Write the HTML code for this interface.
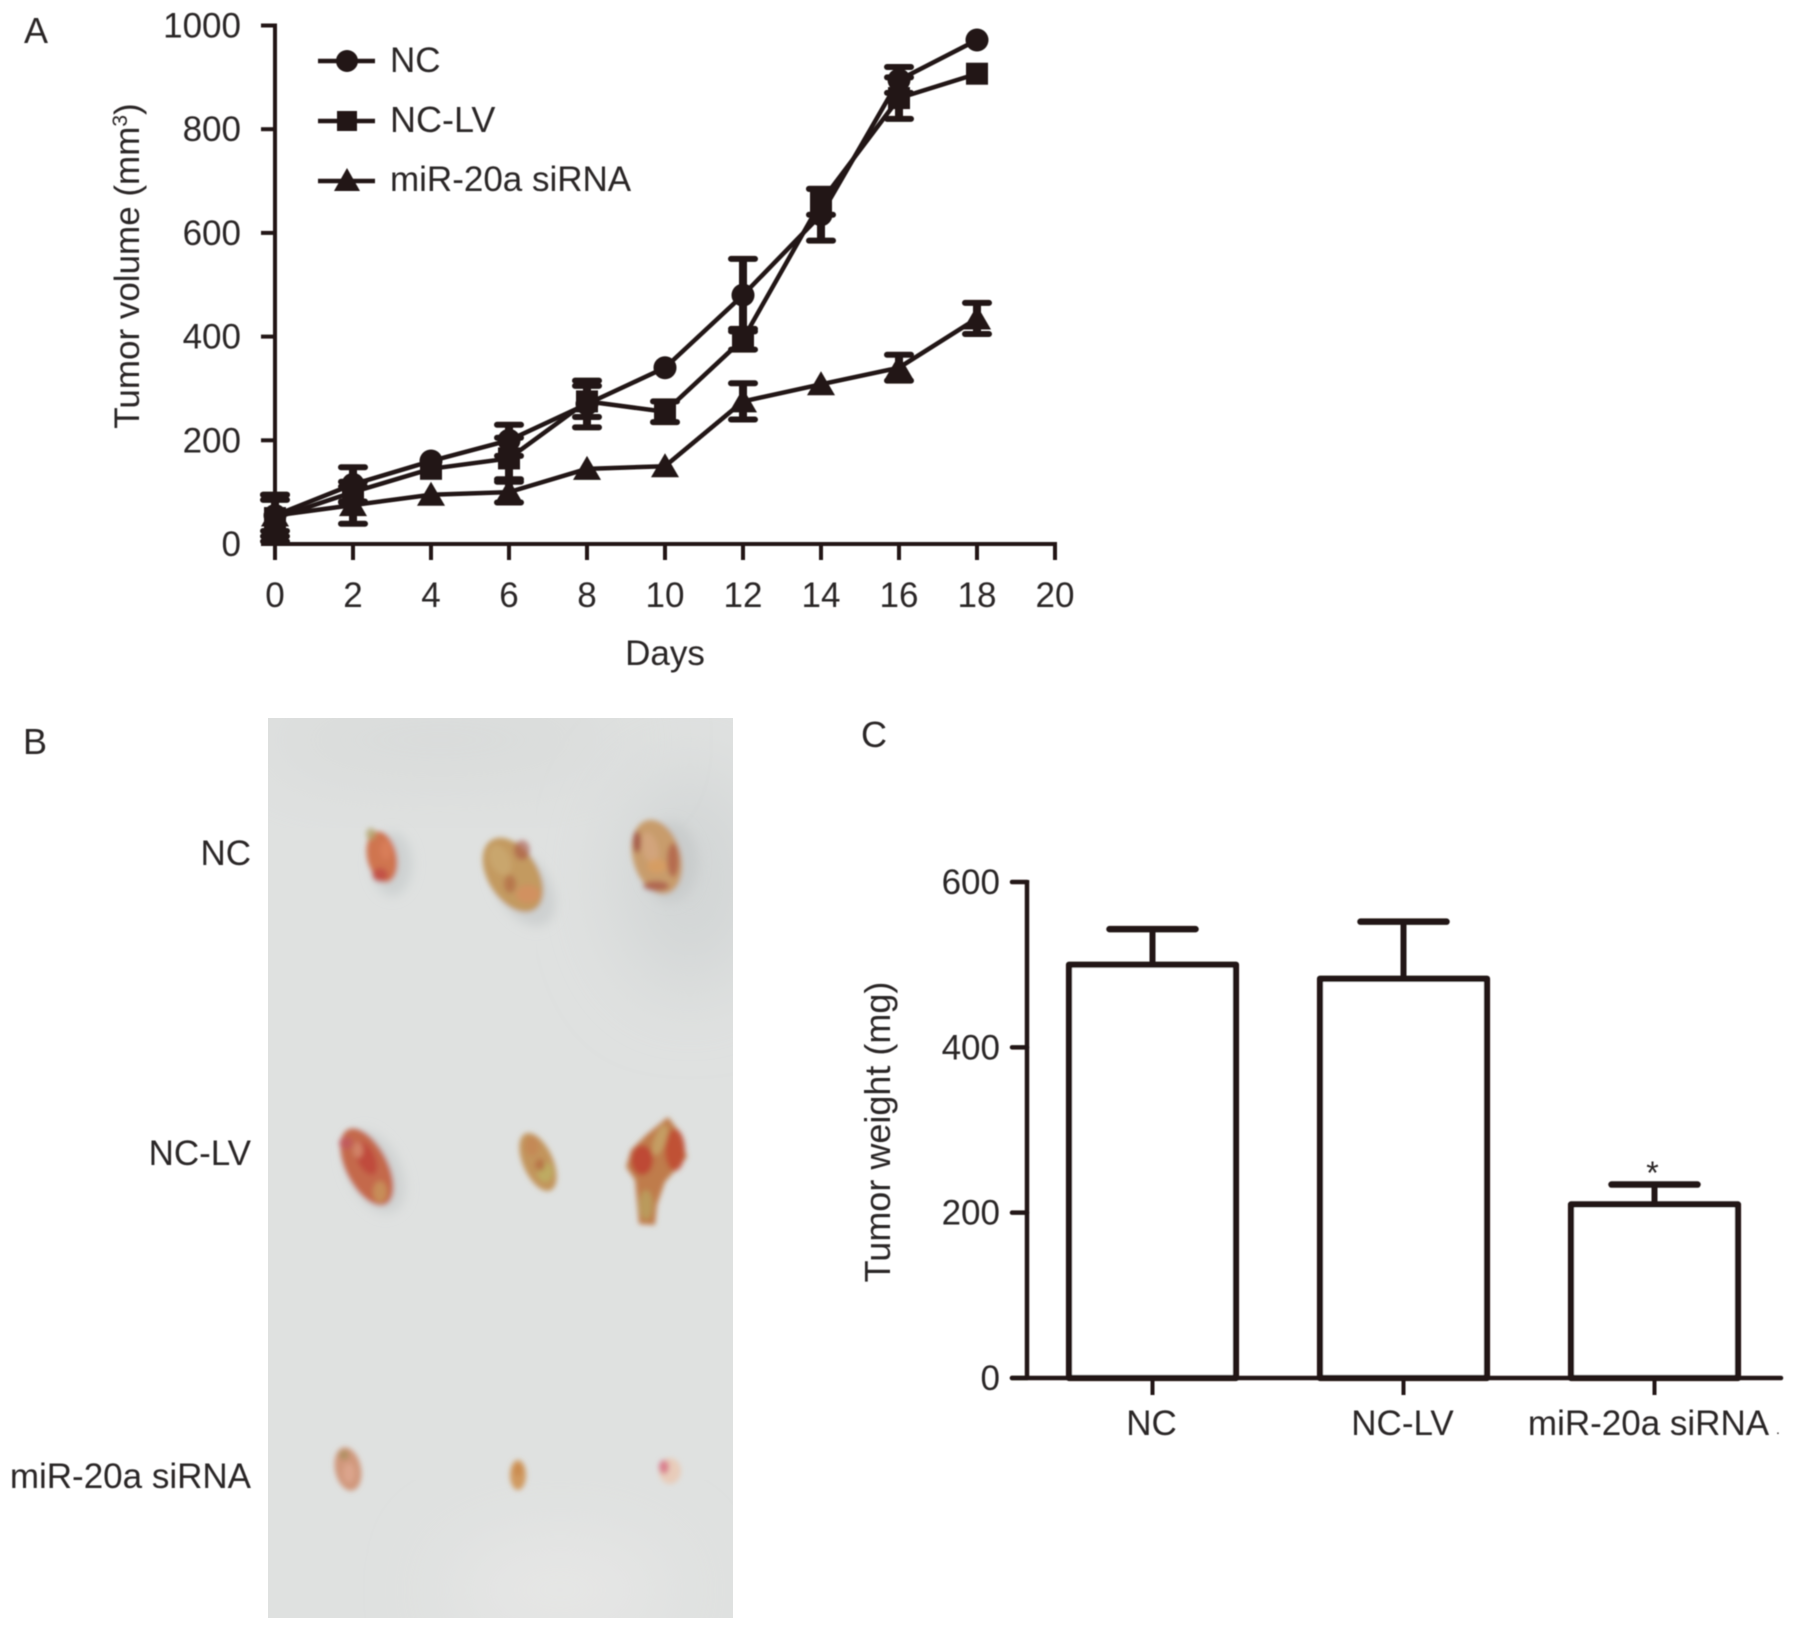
<!DOCTYPE html>
<html lang="en">
<head>
<meta charset="utf-8">
<title>Tumor growth figure</title>
<style>
html,body{margin:0;padding:0;background:#fff;width:1795px;height:1630px;overflow:hidden}
svg{display:block}
text{font-family:"Liberation Sans",sans-serif;fill:#2a2526}
</style>
</head>
<body>
<svg id="fig" xmlns="http://www.w3.org/2000/svg" width="1795" height="1630" viewBox="0 0 1795 1630">
<defs>
<filter id="soft" x="-5%" y="-5%" width="110%" height="110%"><feGaussianBlur stdDeviation="0.55"/></filter>
<filter id="b2" x="-40%" y="-40%" width="180%" height="180%"><feGaussianBlur stdDeviation="2.6"/></filter>
<filter id="b3" x="-40%" y="-40%" width="180%" height="180%"><feGaussianBlur stdDeviation="5"/></filter>
<filter id="b40" x="-60%" y="-60%" width="220%" height="220%"><feGaussianBlur stdDeviation="40"/></filter>
<clipPath id="photoClip"><rect x="268" y="718" width="465" height="900"/></clipPath>
</defs>

<rect x="0" y="0" width="1795" height="1630" fill="#ffffff"/>

<!-- Panel B photo -->
<g clip-path="url(#photoClip)">
  <rect x="268" y="718" width="465" height="900" fill="#dfe1e0"/>
  <ellipse cx="690" cy="880" rx="70" ry="110" fill="#d2d5d5" filter="url(#b40)"/>
  <ellipse cx="440" cy="740" rx="190" ry="40" fill="#d8dad9" filter="url(#b40)"/>
  <ellipse cx="560" cy="1590" rx="110" ry="50" fill="#e7e7e6" filter="url(#b40)"/>

  <g filter="url(#b2)">
    <ellipse cx="392" cy="864" rx="20" ry="32" fill="#ced1d1" filter="url(#b3)"/>
    <ellipse cx="382" cy="857" rx="15" ry="26" fill="#cf7450" transform="rotate(-12 382 857)"/>
    <ellipse cx="380" cy="875" rx="8" ry="7" fill="#bf4a45" opacity="0.8"/>
    <ellipse cx="386" cy="850" rx="6" ry="10" fill="#d9805a" opacity="0.8"/>
    <ellipse cx="371" cy="834" rx="5" ry="6" fill="#b3a36a" opacity="0.8"/>
  </g>
  <g filter="url(#b2)">
    <ellipse cx="524" cy="888" rx="26" ry="42" fill="#cdd0d0" filter="url(#b3)" transform="rotate(-32 524 888)"/>
    <ellipse cx="513" cy="875" rx="25" ry="41" fill="#c39a60" transform="rotate(-32 513 875)"/>
    <ellipse cx="500" cy="860" rx="10" ry="16" fill="#cba970" transform="rotate(-25 500 860)" opacity="0.8"/>
    <ellipse cx="522" cy="850" rx="8" ry="10" fill="#a85345" opacity="0.6"/>
    <ellipse cx="528" cy="894" rx="12" ry="9" fill="#d48f60" opacity="0.8"/>
    <ellipse cx="510" cy="884" rx="6" ry="9" fill="#b36c48" opacity="0.75"/>
  </g>
  <g filter="url(#b2)">
    <ellipse cx="670" cy="862" rx="28" ry="40" fill="#c9cccc" filter="url(#b3)"/>
    <ellipse cx="657" cy="857" rx="24" ry="38" fill="#c89c6c" transform="rotate(-16 657 857)"/>
    <ellipse cx="637" cy="842" rx="4" ry="11" fill="#9c4a40" opacity="0.8"/>
    <ellipse cx="673" cy="860" rx="6" ry="17" fill="#b0604a" opacity="0.8"/>
    <ellipse cx="650" cy="848" rx="8" ry="16" fill="#d5a680" transform="rotate(-15 650 848)" opacity="0.8"/>
    <ellipse cx="656" cy="886" rx="13" ry="5" fill="#a85548" opacity="0.75"/>
    <ellipse cx="657" cy="866" rx="10" ry="7" fill="#d89e62" opacity="0.8"/>
  </g>
  <g filter="url(#b2)">
    <ellipse cx="375" cy="1172" rx="26" ry="44" fill="#cfd2d2" filter="url(#b3)" transform="rotate(-25 375 1172)"/>
    <ellipse cx="367" cy="1167" rx="21" ry="42" fill="#c4694c" transform="rotate(-27 367 1167)"/>
    <ellipse cx="346" cy="1143" rx="7" ry="6" fill="#c0575f" opacity="0.8"/>
    <ellipse cx="366" cy="1158" rx="9" ry="18" fill="#bf453a" transform="rotate(-25 366 1158)" opacity="0.8"/>
    <ellipse cx="380" cy="1192" rx="7" ry="11" fill="#c8965c" opacity="0.8"/>
    <ellipse cx="358" cy="1150" rx="5" ry="8" fill="#d58f70" opacity="0.8"/>
  </g>
  <g filter="url(#b2)">
    <ellipse cx="538" cy="1162" rx="15" ry="31" fill="#c2945c" transform="rotate(-24 538 1162)"/>
    <ellipse cx="545" cy="1172" rx="8" ry="10" fill="#bdb064" opacity="0.8"/>
    <ellipse cx="532" cy="1146" rx="7" ry="10" fill="#c48656" opacity="0.8"/>
    <ellipse cx="540" cy="1165" rx="5" ry="6" fill="#b3643f" opacity="0.7"/>
  </g>
  <g filter="url(#b2)">
    <path d="M668 1117 L678 1130 L687 1157 L665 1182 L657 1205 L655 1225 L639 1224 L635 1180 L626 1167 L631 1150 L646 1135 Z" fill="#bf7c4c"/>
    <ellipse cx="642" cy="1160" rx="11" ry="15" fill="#bd4232" opacity="0.85"/>
    <ellipse cx="675" cy="1150" rx="10" ry="21" fill="#c04a33" opacity="0.85"/>
    <ellipse cx="646" cy="1205" rx="7" ry="15" fill="#b9a05e" opacity="0.85"/>
    <ellipse cx="660" cy="1140" rx="6" ry="16" fill="#c6a468" transform="rotate(20 660 1140)" opacity="0.85"/>
  </g>
  <g filter="url(#b2)">
    <ellipse cx="348" cy="1469" rx="13" ry="22" fill="#d0977c" transform="rotate(-12 348 1469)"/>
    <ellipse cx="349" cy="1473" rx="6" ry="10" fill="#dda890" opacity="0.8"/>
    <ellipse cx="344" cy="1455" rx="5" ry="5" fill="#a8905c" opacity="0.8"/>
  </g>
  <g filter="url(#b2)">
    <ellipse cx="518" cy="1475" rx="8" ry="15" fill="#d09a60"/>
    <ellipse cx="518" cy="1470" rx="4" ry="6" fill="#c8864a" opacity="0.8"/>
  </g>
  <g filter="url(#b2)">
    <ellipse cx="670" cy="1471" rx="11" ry="13" fill="#e8ccba"/>
    <ellipse cx="664" cy="1467" rx="5" ry="7" fill="#d8788a" opacity="0.9"/>
  </g>
</g>

<g id="chartRoot" filter="url(#soft)">
  <text x="24" y="43" font-size="36">A</text>
  <text x="23" y="754" font-size="36">B</text>
  <text x="861" y="747" font-size="36">C</text>

  <text x="251" y="865" font-size="35" text-anchor="end">NC</text>
  <text x="251" y="1165" font-size="35" text-anchor="end">NC-LV</text>
  <text x="251" y="1488" font-size="35" text-anchor="end">miR-20a siRNA</text>

  <text transform="translate(139,266) rotate(-90)" font-size="35" text-anchor="middle">Tumor volume (mm<tspan font-size="21" dy="-12">3</tspan><tspan dy="12">)</tspan></text>
  <text x="665" y="665" font-size="35" text-anchor="middle">Days</text>
  <text transform="translate(890,1132) rotate(-90)" font-size="36" text-anchor="middle">Tumor weight (mg)</text>

  <g id="legend">
    <g>
      <line x1="318" y1="61" x2="375" y2="61" stroke="#231815" stroke-width="4.5"/>
      <circle cx="347" cy="61" r="11" fill="#231815"/>
      <text x="390" y="72" font-size="35">NC</text>
    </g>
    <g>
      <line x1="318" y1="121" x2="375" y2="121" stroke="#231815" stroke-width="4.5"/>
      <rect x="337" y="111" width="20" height="20" fill="#231815"/>
      <text x="390" y="132" font-size="36">NC-LV</text>
    </g>
    <g>
      <line x1="318" y1="181" x2="375" y2="181" stroke="#231815" stroke-width="4.5"/>
      <path d="M347 168 L360 191 L334 191 Z" fill="#231815"/>
      <text x="390" y="191" font-size="35">miR-20a siRNA</text>
    </g>
  </g>

  <text x="1776" y="1434" font-size="14">.</text>
</g>
</svg>

<script>
// ----- Panel A data -----
var lineDays = [0, 2, 4, 6, 8, 10, 12, 14, 16, 18];
var ncValues = [55, 115, 160, 200, 270, 340, 480, 635, 895, 972];
var ncErrors = [40, 33, 0, 30, 45, 0, 70, 50, 25, 0];
var ncLvValues = [50, 100, 145, 165, 275, 255, 395, 660, 860, 907];
var ncLvErrors = [45, 20, 0, 40, 30, 20, 20, 25, 40, 0];
var sirnaValues = [55, 75, 95, 100, 145, 150, 275, 308, 340, 435];
var sirnaErrors = [30, 36, 0, 20, 0, 0, 35, 0, 25, 30];
var lineXTicks = [0, 2, 4, 6, 8, 10, 12, 14, 16, 18, 20];
var lineYTicks = [0, 200, 400, 600, 800, 1000];

// ----- Panel C data -----
var barCategories = ['NC', 'NC-LV', 'miR-20a siRNA'];
var barValues = [500, 483, 210];
var barErrors = [43, 69, 24];
var barYTicks = [0, 200, 400, 600];

var INK = '#231815';
var NS = 'http://www.w3.org/2000/svg';
var root = document.getElementById('chartRoot');

function lineX(v) { return 275 + v * (1055 - 275) / 20; }
function lineY(v) { return 544 - v * (544 - 25.5) / 1000; }
function barY(v) { return 1378 - v * (1378 - 882) / 600; }
function barX(i) { return 1152.5 + i * 251; }
function barLabelX(i) { return barX(i) - 1 - (i === 2 ? 5 : 0); }

function make(tag, attrs, parent) {
  var el = document.createElementNS(NS, tag);
  for (var k in attrs) { el.setAttribute(k, attrs[k]); }
  (parent || root).appendChild(el);
  return el;
}

// ----- Panel A axes -----
var lineAxes = make('g', {});



var lineYAxis = make('line', { x1: lineX(0), x2: lineX(0), y1: lineY(1000) - 2, y2: lineY(0) + 2, stroke: INK, 'stroke-width': 4 }, lineAxes);



var lineXAxis = make('line', { x1: lineX(0) - 14, x2: lineX(20) + 2, y1: lineY(0), y2: lineY(0), stroke: INK, 'stroke-width': 4 }, lineAxes);



lineYTicks.forEach(function (t) {
  var tick = make('line', { x1: lineX(0) - 14, x2: lineX(0), y1: lineY(t), y2: lineY(t), stroke: INK, 'stroke-width': 4 }, lineAxes);
  
  
  var label = make('text', { x: 241, y: lineY(t) + 12, 'font-size': 35, 'text-anchor': 'end' }, lineAxes);
  label.textContent = String(t);
  
  
});

lineXTicks.forEach(function (t) {
  var tick = make('line', { x1: lineX(t), x2: lineX(t), y1: lineY(0), y2: 560, stroke: INK, 'stroke-width': 4 }, lineAxes);
  
  
  var label = make('text', { x: lineX(t), y: 607, 'font-size': 35, 'text-anchor': 'middle' }, lineAxes);
  label.textContent = String(t);
  
  
});

// ----- Panel A series -----
function drawMarker(kind, x, y, parent) {
  if (kind === 'circle') {
    return make('circle', { cx: x, cy: y, r: 11.5, fill: INK }, parent);
  }
  if (kind === 'square') {
    return make('rect', { x: x - 11, y: y - 11, width: 22, height: 22, fill: INK }, parent);
  }
  return make('path', { d: 'M' + x + ' ' + (y - 13) + ' L' + (x + 14) + ' ' + (y + 11) + ' L' + (x - 14) + ' ' + (y + 11) + ' Z', fill: INK }, parent);
}

function drawSeries(name, kind, values, errors) {
  var group = make('g', {});
  
  

  var pts = values.map(function (v, i) { return lineX(lineDays[i]) + ',' + lineY(v); }).join(' ');
  var poly = make('polyline', { points: pts, fill: 'none', stroke: INK, 'stroke-width': 4.5, 'stroke-linejoin': 'round' }, group);
  
  

  values.forEach(function (v, i) {
    var x = lineX(lineDays[i]);
    var err = errors[i];
    if (err > 0) {
      var stem = make('line', { x1: x, x2: x, y1: lineY(v + err), y2: lineY(v - err), stroke: INK, 'stroke-width': 8 }, group);
      
      
      var caps = make('path', {
        d: 'M' + (x - 12) + ' ' + lineY(v + err) + ' L' + (x + 12) + ' ' + lineY(v + err) +
           ' M' + (x - 12) + ' ' + lineY(v - err) + ' L' + (x + 12) + ' ' + lineY(v - err),
        fill: 'none', stroke: INK, 'stroke-width': 6, 'stroke-linecap': 'round'
      }, group);
      
      
    }
    var m = drawMarker(kind, x, lineY(v), group);
    
    
  });
}

drawSeries('nc', 'circle', ncValues, ncErrors);
drawSeries('nc-lv', 'square', ncLvValues, ncLvErrors);
drawSeries('sirna', 'triangle', sirnaValues, sirnaErrors);

// ----- Panel C bar chart -----
var barAxes = make('g', {});



barCategories.forEach(function (cat, i) {
  var x = barX(i);
  var top = barY(barValues[i]);
  var errTop = barY(barValues[i] + barErrors[i]);

  var stem = make('line', { x1: x, x2: x, y1: errTop, y2: top, stroke: INK, 'stroke-width': 6 });
  
  

  var cap = make('line', { x1: x - 43, x2: x + 43, y1: errTop, y2: errTop, stroke: INK, 'stroke-width': 6.5, 'stroke-linecap': 'round' });
  
  

  var rect = make('rect', { x: x - 83.5, y: top, width: 167, height: barY(0) - top, fill: '#fff', stroke: INK, 'stroke-width': 6.2, 'stroke-linejoin': 'round' });
  
  

  var tick = make('line', { x1: x, x2: x, y1: barY(0), y2: 1395, stroke: INK, 'stroke-width': 4 }, barAxes);
  
  

  var label = make('text', { x: barLabelX(i), y: 1435, 'font-size': 35, 'text-anchor': 'middle' }, barAxes);
  label.textContent = cat;
  
  
});

var barYAxis = make('line', { x1: 1027, x2: 1027, y1: barY(600) - 2, y2: barY(0), stroke: INK, 'stroke-width': 4.5 }, barAxes);



var barXAxis = make('line', { x1: 1012, x2: 1781, y1: barY(0), y2: barY(0), stroke: INK, 'stroke-width': 4.5, 'stroke-linecap': 'round' }, barAxes);



barYTicks.forEach(function (t) {
  var tick = make('line', { x1: 1012, x2: 1027, y1: barY(t), y2: barY(t), stroke: INK, 'stroke-width': 4.5, 'stroke-linecap': 'round' }, barAxes);
  
  
  var label = make('text', { x: 1000, y: barY(t) + 12, 'font-size': 35, 'text-anchor': 'end' }, barAxes);
  label.textContent = String(t);
  
  
});

var star = make('text', { x: barX(2) - 2, y: 1184, 'font-size': 32, 'text-anchor': 'middle' });
star.textContent = '*';


</script>
</body>
</html>
